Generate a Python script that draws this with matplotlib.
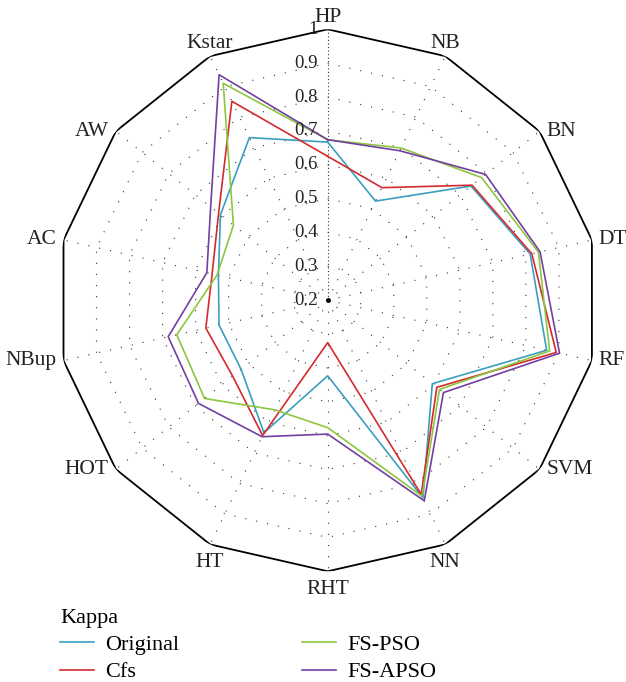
import numpy as np
import matplotlib
matplotlib.use("Agg")
import matplotlib.pyplot as plt

# Categories (clockwise from top)
categories = ["HP", "NB", "BN", "DT", "RF", "SVM", "NN",
              "RHT", "HT", "HOT", "NBup", "AC", "AW", "Kstar"]

# Kappa values
original = [0.667, 0.525, 0.741, 0.813, 0.863, 0.595, 0.848,
            0.423, 0.634, 0.527, 0.529, 0.531, 0.605, 0.733]
cfs = [0.625, 0.569, 0.745, 0.818, 0.892, 0.612, 0.836,
       0.325, 0.643, 0.559, 0.569, 0.550, 0.612, 0.852]
fs_pso = [0.674, 0.699, 0.781, 0.838, 0.872, 0.622, 0.842,
          0.576, 0.559, 0.665, 0.657, 0.535, 0.556, 0.911]
fs_apso = [0.674, 0.690, 0.796, 0.843, 0.902, 0.637, 0.857,
           0.595, 0.647, 0.688, 0.683, 0.566, 0.642, 0.939]

series_names = ["Original", "Cfs", "FS-PSO", "FS-APSO"]
series_colors = ["#3a9fbf", "#d42a2e", "#8dc63f", "#7240a0"]

r_ticks = [0.2, 0.3, 0.4, 0.5, 0.6, 0.7, 0.8, 0.9, 1.0]
r_labels = ["0.2", "0.3", "0.4", "0.5", "0.6", "0.7", "0.8", "0.9", "1"]

plt.rcParams["font.family"] = ["Liberation Serif", "DejaVu Serif"]

fig = plt.figure(figsize=(6.26, 6.82), dpi=100)
ax = fig.add_axes([0.0906, 0.1623, 0.8658, 0.7948], projection="polar")
ax.set_theta_zero_location("N")
ax.set_theta_direction(-1)
ax.set_ylim(0.2, 1.0)
ax.grid(False)
ax.spines["polar"].set_visible(False)
ax.set_xticks([])
ax.set_yticks([])
ax.patch.set_alpha(0)

n = len(categories)
angles = np.linspace(0, 2 * np.pi, n, endpoint=False)
closed = np.append(angles, angles[0])

# dotted polygon grid
for r in r_ticks[1:-1]:
    ax.plot(closed, [r] * (n + 1), color="#333333", lw=0.8,
            linestyle=(0, (1, 9)), zorder=1)
# spokes
for i, a in enumerate(angles):
    ls = (0, (1, 2.2)) if i == 0 else (0, (1, 9))
    ax.plot([a, a], [0.2, 1.0], color="#333333", lw=0.8, linestyle=ls, zorder=1)
# outer frame
ax.plot(closed, [1.0] * (n + 1), color="black", lw=1.3, zorder=2)

# data series
for vals, name, col in zip([original, cfs, fs_pso, fs_apso], series_names, series_colors):
    v = np.append(vals, vals[0])
    ax.plot(closed, v, color=col, lw=1.2, label=name, zorder=3)

# radial tick labels along HP axis
for r, lab in zip(r_ticks, r_labels):
    ax.annotate(lab, xy=(0, r), xytext=(-7, 0), textcoords="offset points",
                ha="right", va="center", fontsize=13.5, color="#222222")
ax.plot([0], [0.2], marker="o", ms=2.5, color="black", zorder=4)

# category labels
for a, lab in zip(angles, categories):
    s = np.sin(a)
    c = np.cos(a)
    if abs(s) < 0.5:
        ha = "center"
        if c > 0:
            va, off = "bottom", (0, 2)
        else:
            va, off = "top", (0, -6)
    else:
        va = "center"
        if s > 0:
            ha, off = "left", (5, 0)
        else:
            ha, off = "right", (-5, 0)
    ax.annotate(lab, xy=(a, 1.0), xytext=off, textcoords="offset points",
                ha=ha, va=va, fontsize=15.5, color="#222222", annotation_clip=False)

leg = fig.legend(loc="upper left", bbox_to_anchor=(60 / 626, 1 - 609 / 682),
                 ncol=2, frameon=False, title="Kappa", fontsize=16,
                 title_fontsize=16, handlelength=1.55, handletextpad=0.5,
                 columnspacing=5.5, labelspacing=0.3, borderpad=0,
                 borderaxespad=0, alignment="left")

fig.savefig("out.png", dpi=100)
